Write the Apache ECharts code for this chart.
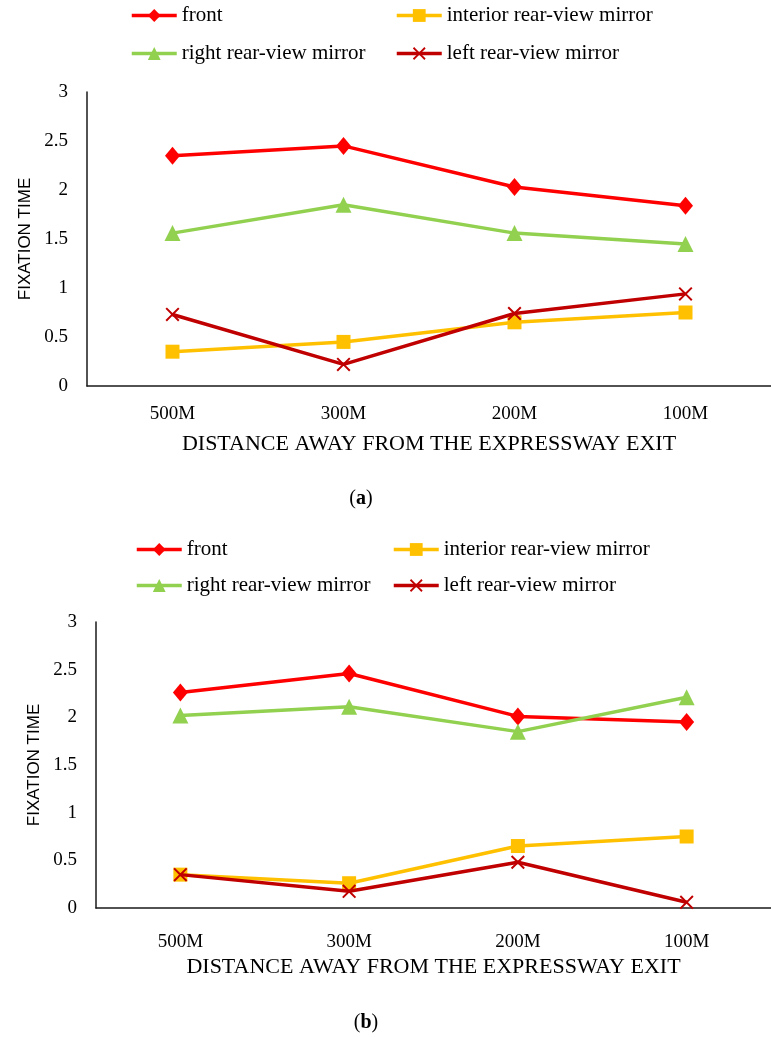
<!DOCTYPE html>
<html>
<head>
<meta charset="utf-8">
<script src="https://cdn.jsdelivr.net/npm/echarts@6/dist/echarts.min.js"></script>
<style>
html,body{margin:0;padding:0;background:#fff;}
#c{width:771px;height:1037px;}
</style>
</head>
<body>
<div id="c"></div>
<script>
// ---- data ----
const categories = ['500M', '300M', '200M', '100M'];
const seriesNames = ['front', 'interior rear-view mirror', 'right rear-view mirror', 'left rear-view mirror'];
// chart (a)
const frontA    = [2.35, 2.45, 2.03, 1.84];
const interiorA = [0.35, 0.45, 0.65, 0.75];
const rightA    = [1.56, 1.85, 1.56, 1.45];
const leftA     = [0.73, 0.22, 0.74, 0.94];
// chart (b)
const frontB    = [2.26, 2.46, 2.01, 1.95];
const interiorB = [0.35, 0.26, 0.65, 0.75];
const rightB    = [2.02, 2.11, 1.85, 2.21];
const leftB     = [0.35, 0.175, 0.48, 0.06];
const yTicks = { min: 0, max: 3, interval: 0.5 };
const xTitle = 'DISTANCE AWAY FROM THE EXPRESSWAY EXIT';
const yTitle = 'FIXATION TIME';

// ---- styles ----
const SERIF = '"Liberation Serif", "Times New Roman", serif';
const SANS = '"Liberation Sans", Arial, sans-serif';
const colors = ['#FF0000', '#FFC000', '#92D050', '#C00000'];
const crossPath = 'path://M0,1 L1,0 L5,4 L9,0 L10,1 L6,5 L10,9 L9,10 L5,6 L1,10 L0,9 L4,5 Z';
const symbols = ['diamond', 'rect', 'triangle', crossPath];
const symbolSizes = [[15, 18], 14, 16, 14];

function mkSeries(data, idx, axisIdx) {
  return {
    type: 'line',
    name: seriesNames[idx],
    data: data,
    xAxisIndex: axisIdx,
    yAxisIndex: axisIdx,
    symbol: symbols[idx],
    symbolSize: symbolSizes[idx],
    showAllSymbol: true,
    lineStyle: { color: colors[idx], width: 3.5 },
    itemStyle: { color: colors[idx], borderWidth: 0 },
    emphasis: { disabled: true },
    animation: false,
    z: idx === 3 ? 4 : 3
  };
}

function mkXAxis(gi, margin, gap) {
  return {
    type: 'category', gridIndex: gi, data: categories, boundaryGap: true,
    axisLine: { show: true, lineStyle: { color: '#1a1a1a', width: 1.5 } },
    axisTick: { show: false },
    axisLabel: { color: '#000', fontFamily: SERIF, fontSize: 19, margin: margin },
    splitLine: { show: false },
    name: xTitle, nameLocation: 'middle', nameGap: gap,
    nameTextStyle: { color: '#000', fontFamily: SERIF, fontSize: 22 }
  };
}
function mkYAxis(gi, gap) {
  return {
    type: 'value', gridIndex: gi, min: yTicks.min, max: yTicks.max, interval: yTicks.interval,
    axisLine: { show: true, lineStyle: { color: '#1a1a1a', width: 1.5 } },
    axisTick: { show: false },
    axisLabel: { color: '#000', fontFamily: SERIF, fontSize: 19, margin: 19 },
    splitLine: { show: false },
    name: yTitle, nameLocation: 'middle', nameGap: gap, nameRotate: 90,
    nameTextStyle: { color: '#000', fontFamily: SANS, fontSize: 17 }
  };
}
function mkLegend(name, left, cy) {
  return {
    data: [name], left: left, top: cy - 9, orient: 'horizontal',
    padding: 0,
    itemWidth: 45, itemHeight: 16, itemGap: 0,
    selectedMode: false,
    lineStyle: { width: 3.5 },
    textStyle: { color: '#000', fontFamily: SERIF, fontSize: 21 }
  };
}

const chart = echarts.init(document.getElementById('c'), null, { renderer: 'canvas' });
chart.setOption({
  backgroundColor: '#fff',
  animation: false,
  grid: [
    { left: 87, top: 92, width: 694, height: 294 },
    { left: 96, top: 622, width: 676, height: 286 }
  ],
  xAxis: [mkXAxis(0, 19, 47), mkXAxis(1, 25, 48)],
  yAxis: [mkYAxis(0, 48), mkYAxis(1, 50)],
  legend: [
    mkLegend(seriesNames[0], 130, 14),
    mkLegend(seriesNames[1], 395, 14),
    mkLegend(seriesNames[2], 130, 52),
    mkLegend(seriesNames[3], 395, 52),
    mkLegend(seriesNames[0], 135, 548),
    mkLegend(seriesNames[1], 392, 548),
    mkLegend(seriesNames[2], 135, 584),
    mkLegend(seriesNames[3], 392, 584)
  ],
  graphic: [
    { type: 'text', x: 361, y: 499, style: { text: '({b|a})', rich: { b: { fontWeight: 'bold', fontFamily: SERIF, fontSize: 20, fill: '#000' } }, font: '20px ' + SERIF, fill: '#000', align: 'center', verticalAlign: 'middle' } },
    { type: 'text', x: 366, y: 1023, style: { text: '({b|b})', rich: { b: { fontWeight: 'bold', fontFamily: SERIF, fontSize: 20, fill: '#000' } }, font: '20px ' + SERIF, fill: '#000', align: 'center', verticalAlign: 'middle' } }
  ],
  series: [
    mkSeries(frontA, 0, 0), mkSeries(interiorA, 1, 0), mkSeries(rightA, 2, 0), mkSeries(leftA, 3, 0),
    mkSeries(frontB, 0, 1), mkSeries(interiorB, 1, 1), mkSeries(rightB, 2, 1), mkSeries(leftB, 3, 1)
  ]
});
</script>
</body>
</html>
